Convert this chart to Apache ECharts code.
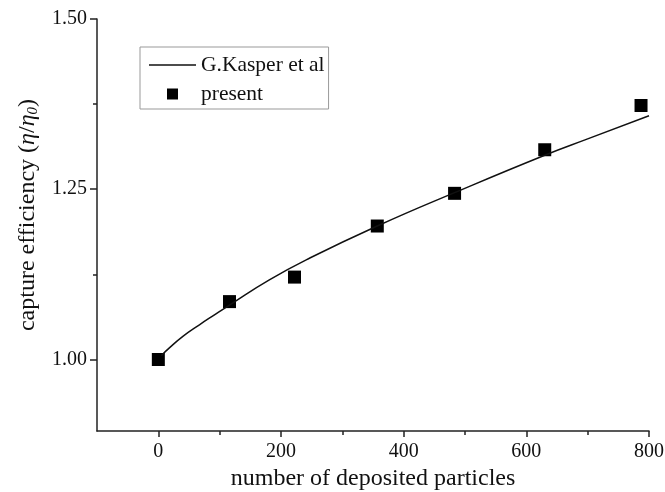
<!DOCTYPE html>
<html>
<head>
<meta charset="utf-8">
<script src="https://cdn.jsdelivr.net/npm/echarts@6/dist/echarts.min.js"></script>
<style>
  html, body { margin: 0; padding: 0; background: #fff; }
  #chart { width: 665px; height: 492px; }
</style>
</head>
<body>
<div id="chart"></div>
<script>
// G.Kasper et al fit curve
var kasperX = [5, 18, 40, 67, 94, 116, 181, 247, 357, 483, 630, 700, 800];
var kasperY = [1.006, 1.017, 1.034, 1.051, 1.067, 1.080, 1.117, 1.149, 1.196, 1.245, 1.300, 1.324, 1.358];

// present results
var presentX = [0, 116, 222, 357, 483, 630, 787];
var presentY = [1.000, 1.085, 1.121, 1.196, 1.244, 1.308, 1.373];

// tick labels
var xMajor = [0, 200, 400, 600, 800];
var xMinor = [100, 300, 500, 700];
var yMajor = [1.00, 1.25, 1.50];
var yMinor = [1.125, 1.375];

var font = 'Liberation Serif';
var chart = echarts.init(document.getElementById('chart'));

function zip(xs, ys) {
    return xs.map(function (x, i) { return [x, ys[i]]; });
}

var option = {
    backgroundColor: '#fff',
    animation: false,
    grid: { left: 97, right: 16, top: 19, bottom: 61, outerBoundsMode: 'none' },
    legend: {
        orient: 'vertical',
        left: 140,
        top: 47,
        padding: [7, 4, 4, 9],
        itemWidth: 47,
        itemHeight: 11,
        itemGap: 7,
        symbolKeepAspect: true,
        borderColor: '#999',
        borderWidth: 1,
        textStyle: { fontFamily: font, fontSize: 21.5, lineHeight: 20, color: '#111' },
        data: [
            { name: 'G.Kasper et al', icon: 'path://M0,0H47V1.5H0Z' },
            { name: 'present', icon: 'path://M0,0H10V10H0Z' }
        ]
    },
    xAxis: [{
        type: 'value',
        min: -100,
        max: 800,
        position: 'bottom',
        name: 'number of deposited particles',
        nameLocation: 'middle',
        nameGap: 35,
        nameTextStyle: { fontFamily: font, fontSize: 24, color: '#111' },
        axisLine: { onZero: false, lineStyle: { color: '#222', width: 1.5 } },
        axisTick: { inside: false, length: 6, customValues: xMajor, lineStyle: { color: '#222', width: 1.5 } },
        axisLabel: { customValues: xMajor, margin: 11, fontFamily: font, fontSize: 20, color: '#111' },
        splitLine: { show: false }
    }, {
        type: 'value',
        min: -100,
        max: 800,
        position: 'bottom',
        axisLine: { show: false, onZero: false },
        axisTick: { length: 4, customValues: xMinor, lineStyle: { color: '#222', width: 1.5 } },
        axisLabel: { show: false },
        splitLine: { show: false }
    }],
    yAxis: [{
        type: 'value',
        min: 0.895,
        max: 1.5,
        position: 'left',
        name: 'capture efficiency ({i|η}/{i|η}{sub|0})',
        nameLocation: 'middle',
        nameGap: 56,
        nameTextStyle: {
            fontFamily: font, fontSize: 24, color: '#111',
            padding: [0, 0, 0, 20],
            rich: {
                i: { fontFamily: font, fontStyle: 'italic', fontSize: 24, color: '#111' },
                sub: { fontFamily: font, fontStyle: 'italic', fontSize: 15, color: '#111', padding: [11, 0, 0, 0] }
            }
        },
        axisLine: { show: true, onZero: false, lineStyle: { color: '#222', width: 1.5 } },
        axisTick: { show: true, length: 7, customValues: yMajor, lineStyle: { color: '#222', width: 1.5 } },
        axisLabel: {
            customValues: yMajor, margin: 10, fontFamily: font, fontSize: 20, color: '#111',
            formatter: function (v) { return v.toFixed(2); }
        },
        splitLine: { show: false }
    }, {
        type: 'value',
        min: 0.895,
        max: 1.5,
        position: 'left',
        axisLine: { show: false, onZero: false },
        axisTick: { show: true, length: 4, customValues: yMinor, lineStyle: { color: '#222', width: 1.5 } },
        axisLabel: { show: false },
        splitLine: { show: false }
    }],
    series: [{
        name: 'G.Kasper et al',
        type: 'line',
        smooth: true,
        symbol: 'none',
        lineStyle: { color: '#111', width: 1.5 },
        itemStyle: { color: '#111' },
        data: zip(kasperX, kasperY)
    }, {
        name: 'present',
        type: 'scatter',
        symbol: 'rect',
        symbolSize: 13,
        itemStyle: { color: '#000', opacity: 1 },
        data: zip(presentX, presentY)
    }]
};

chart.setOption(option);
</script>
</body>
</html>
